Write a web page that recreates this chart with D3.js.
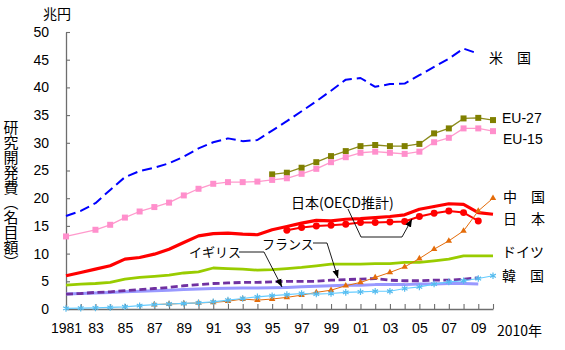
<!DOCTYPE html>
<html>
<head>
<meta charset="utf-8">
<script src="https://cdn.jsdelivr.net/npm/d3@7"></script>
<style>
  html, body { margin: 0; padding: 0; background: #fff; }
  svg { display: block; }
  .num { font-family: "Liberation Sans", Arial, sans-serif; }
  .jp { font-family: "Noto Sans CJK JP", "Noto Sans", sans-serif; }
</style>
</head>
<body>
<script>
// ---- data (兆円, 名目額) ----
const years = [1981,1982,1983,1984,1985,1986,1987,1988,1989,1990,
               1991,1992,1993,1994,1995,1996,1997,1998,1999,2000,
               2001,2002,2003,2004,2005,2006,2007,2008,2009,2010];
const usa = [16.8,17.7,19.1,21.5,23.8,24.9,25.5,26.3,27.5,29.0,
             30.1,30.8,30.3,30.5,32.2,33.9,35.7,37.5,39.4,41.4,
             41.7,40.1,40.6,40.7,42.2,43.7,45.2,47.0,46.1,null];
const eu27 = [null,null,null,null,null,null,null,null,null,null,
              null,null,null,null,24.3,24.6,25.5,26.5,27.6,28.5,
              29.4,29.6,29.4,29.4,29.8,31.7,32.6,34.4,34.5,34.1];
const eu15 = [13.1,null,14.3,15.2,16.5,17.6,18.4,19.2,20.5,21.7,
              22.6,22.9,22.9,23.0,23.3,23.6,24.4,25.3,26.5,27.4,
              28.2,28.4,28.2,28.0,28.4,30.1,30.9,32.6,32.6,32.1];
const japan = [6.0,6.6,7.2,7.8,9.0,9.3,9.9,10.8,12.0,13.2,
               13.6,13.7,13.5,13.4,14.3,14.9,15.5,16.0,15.9,16.2,
               16.3,16.5,16.7,17.0,18.0,18.5,19.0,18.9,17.4,17.1];
const japanOECD = [null,null,null,null,null,null,null,null,null,null,
                   null,null,null,null,null,14.2,14.7,15.0,15.1,15.3,
                   15.6,15.6,15.7,15.8,16.7,17.3,17.7,17.4,15.9,null];
const china = [null,null,null,null,null,null,0.8,0.9,1.0,1.1,
               1.2,1.4,1.8,1.6,1.8,2.1,2.5,3.0,3.4,4.2,
               4.8,5.7,6.6,7.6,9.1,10.8,12.3,14.1,17.7,20.0];
const germany = [4.3,4.5,4.6,4.8,5.4,5.7,5.9,6.1,6.5,6.7,
                 7.4,7.3,7.2,7.0,7.1,7.3,7.5,7.8,8.1,8.1,
                 8.1,8.2,8.2,8.4,8.4,8.7,9.0,9.6,9.6,9.6];
const france = [2.7,2.8,3.0,3.1,3.3,3.5,3.7,3.9,4.2,4.4,
                4.6,4.7,4.8,4.8,4.9,5.0,5.0,5.0,5.2,5.3,
                5.4,5.5,5.2,5.1,5.1,5.2,5.2,5.4,5.6,null];
const uk = [2.7,2.8,2.9,3.0,3.1,3.2,3.3,3.4,3.5,3.6,
            3.7,3.75,3.8,3.8,3.85,3.9,4.0,4.1,4.2,4.3,
            4.3,4.4,4.4,4.4,4.5,4.5,4.6,4.6,4.5,null];
const korea = [0.1,0.15,0.2,0.3,0.4,0.6,0.8,0.9,1.0,1.1,
               1.3,1.6,1.9,2.2,2.4,2.6,2.8,2.7,2.8,3.0,
               3.1,3.2,3.2,3.7,4.0,4.5,4.9,5.1,5.5,6.0];
const yTicks = [0,5,10,15,20,25,30,35,40,45,50];

// ---- chart ----
const W = 565, H = 350;
const svg = d3.select("body").append("svg").attr("width", W).attr("height", H);

const x = d3.scaleLinear().domain([1981, 2010]).range([66, 493]);
const y = d3.scaleLinear().domain([0, 50]).range([309, 32]);

const defs = svg.append("defs");
defs.append("marker").attr("id", "arrow")
  .attr("viewBox", "0 0 8 8").attr("refX", 8).attr("refY", 4)
  .attr("markerWidth", 8).attr("markerHeight", 8)
  .attr("markerUnits", "userSpaceOnUse").attr("orient", "auto")
  .append("path").attr("d", "M0,0.8 L8,4 L0,7.2 Z").attr("fill", "#000");

// axes
const axisColor = "#6e6e6e";
const yAxis = svg.append("g").attr("transform", "translate(66,0)")
  .call(d3.axisLeft(y).tickValues(yTicks).tickSizeInner(-4).tickSizeOuter(0).tickPadding(17));
const xAxis = svg.append("g").attr("transform", "translate(0,309)")
  .call(d3.axisBottom(x).tickValues(years).tickSizeInner(-5).tickSizeOuter(0).tickPadding(14)
    .tickFormat(d => d % 2 === 1 ? (d === 1981 ? "1981" : String(d).slice(2)) : ""));
[yAxis, xAxis].forEach(g => {
  g.select(".domain").attr("stroke", axisColor).attr("stroke-width", 1.3);
  g.selectAll(".tick line").attr("stroke", axisColor).attr("stroke-width", 1.1);
  g.selectAll("text").attr("class", "num").attr("font-size", 14).attr("fill", "#000");
});

function pts(arr) {
  return years.map((yr, i) => ({ yr, v: arr[i] })).filter(d => d.v != null);
}
const line = d3.line().x(d => x(d.yr)).y(d => y(d.v));

function drawLine(arr, opts) {
  svg.append("path").datum(pts(arr))
    .attr("fill", "none").attr("stroke", opts.color)
    .attr("stroke-width", opts.width)
    .attr("stroke-dasharray", opts.dash || null)
    .attr("stroke-linejoin", "round")
    .attr("d", line);
}
function drawMarkers(arr, type, size, fill, stroke, sw) {
  svg.append("g").selectAll("path").data(pts(arr)).join("path")
    .attr("transform", d => `translate(${x(d.yr)},${y(d.v)})`)
    .attr("d", d3.symbol().type(type).size(size))
    .attr("fill", fill).attr("stroke", stroke || "none")
    .attr("stroke-width", sw || 0);
}

// US
drawLine(usa, { color: "#0000ff", width: 2, dash: "10,5" });
// EU-27
drawLine(eu27, { color: "#8a8a1a", width: 1.3 });
drawMarkers(eu27, d3.symbolSquare, 36, "#808000");
// EU-15
drawLine(eu15, { color: "#ff99cc", width: 1.3 });
drawMarkers(eu15, d3.symbolSquare, 36, "#ff8fcc");
// Japan
drawLine(japan, { color: "#ff0000", width: 3.2 });
// Japan OECD
drawLine(japanOECD, { color: "#ff0000", width: 2 });
drawMarkers(japanOECD, d3.symbolCircle, 38, "#ff0000");
// Germany
drawLine(germany, { color: "#99cc00", width: 2.8 });
// UK
drawLine(uk, { color: "#9999ff", width: 3 });
// France
drawLine(france, { color: "#7030a0", width: 2.8, dash: "7,3.5" });
// China
drawLine(china, { color: "#e46c0a", width: 1 });
drawMarkers(china, d3.symbolTriangle, 18, "#e46c0a");
// Korea
drawLine(korea, { color: "#66ccff", width: 1.2 });
const ast = d3.symbolAsterisk || d3.symbolCross;
drawMarkers(korea, ast, 30, d3.symbolAsterisk ? "none" : "#66ccff", "#55bbee", 1.2);

// ---- text ----
function txt(t, xx, yy, cls, size, anchor) {
  return svg.append("text").attr("x", xx).attr("y", yy)
    .attr("class", cls).attr("font-size", size)
    .attr("text-anchor", anchor || "start")
    .attr("dominant-baseline", "central").attr("fill", "#000").text(t);
}
txt("兆円", 43, 13, "jp", 14);
txt("2010年", 497, 330, "jp", 14);
txt("米　国", 489, 57, "jp", 14);
txt("EU-27", 502, 118, "num", 14);
txt("EU-15", 503, 139, "num", 14);
txt("中　国", 503, 196, "jp", 14);
txt("日　本", 503, 218, "jp", 14);
txt("ドイツ", 502, 251, "jp", 14);
txt("韓　国", 502, 275, "jp", 14);
txt("日本(OECD推計)", 291, 202, "jp", 14);
txt("フランス", 262, 243, "jp", 13);
txt("イギリス", 189, 251, "jp", 13);

// y-axis title (vertical)
svg.append("text").attr("x", 11).attr("y", 120)
  .attr("class", "jp").attr("font-size", 15)
  .style("writing-mode", "vertical-rl")
  .attr("fill", "#000").text("研究開発費（名目額）");

// leader lines
function leader(d) {
  svg.append("path").attr("d", d).attr("fill", "none")
    .attr("stroke", "#000").attr("stroke-width", 0.9)
    .attr("marker-end", "url(#arrow)");
}
leader("M348,209 L361,237 L402,237 L412,219");
leader("M313,243 L327,243 L338,278");
leader("M239,252 L264,252 L282,287");
</script>
</body>
</html>
